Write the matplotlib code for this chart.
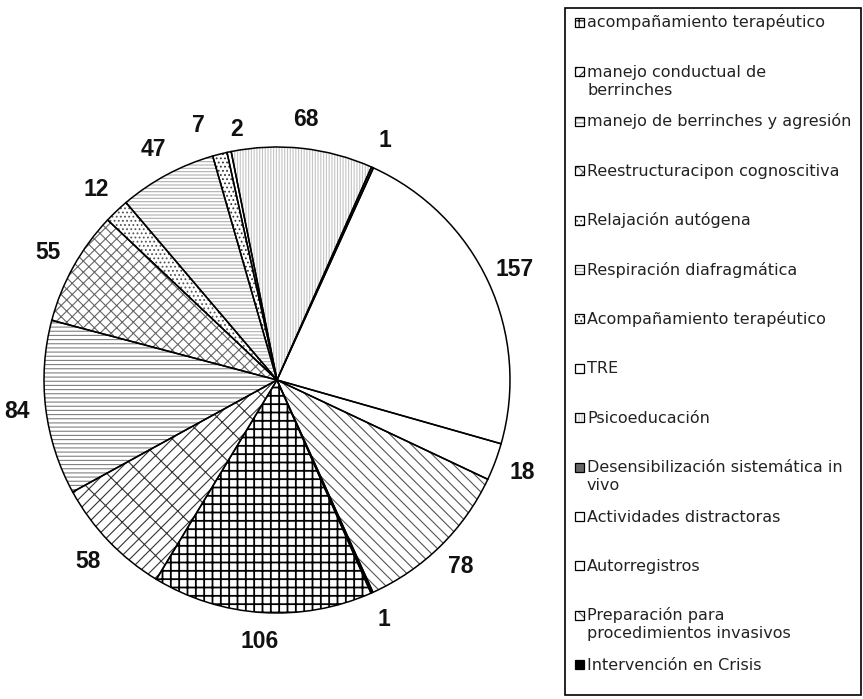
import matplotlib.pyplot as plt
from matplotlib.patches import Rectangle
import numpy as np

W, H = 863, 699

# slices, clockwise from the bottom (same order as the legend)
categories = ['acompañamiento terapéutico',
              'manejo conductual de\nberrinches',
              'manejo de berrinches y agresión',
              'Reestructuracipon cognoscitiva',
              'Relajación autógena',
              'Respiración diafragmática',
              'Acompañamiento terapéutico',
              'TRE',
              'Psicoeducación',
              'Desensibilización sistemática in\nvivo',
              'Actividades distractoras',
              'Autorregistros',
              'Preparación para\nprocedimientos invasivos',
              'Intervención en Crisis']
values = [106, 58, 84, 55, 12, 47, 7, 2, 68, 1, 157, 18, 78, 1]

# (face, hatch, hatch colour)
styles = [('white', '++', 'black'),
          ('white', '///\\', '#333333'),
          ('white', '----', '#808080'),
          ('white', 'xxx', '#666666'),
          ('white', '....', '#555555'),
          ('white', '-----', '#b0b0b0'),
          ('white', '....', '#333333'),
          ('white', '', 'white'),
          ('white', '||||||', '#c4c4c4'),
          ('#666666', '', '#666666'),
          ('white', '', 'white'),
          ('white', '', 'white'),
          ('white', '\\\\\\', '#555555'),
          ('black', '', 'black')]

plt.rcParams['hatch.linewidth'] = 0.8


def px(x, y):
    return x / W, 1 - y / H


fig = plt.figure(figsize=(W / 100, H / 100), dpi=100)

cx, cy, R = 277, 380, 233
l, b = px(cx - R, cy + R)
ax = fig.add_axes([l, b, 2 * R / W, 2 * R / H])

# hatch layer
wedges, _ = ax.pie(values, startangle=-66.2, counterclock=False,
                   wedgeprops=dict(linewidth=0))
for w, (fc, hatch, hc) in zip(wedges, styles):
    w.set_facecolor(fc)
    w.set_edgecolor(hc)
    w.set_hatch(hatch)
    if hatch == '++' and hasattr(w, 'set_hatch_linewidth'):
        w.set_hatch_linewidth(1.3)

# outlines
outl, _ = ax.pie(values, startangle=-66.2, counterclock=False,
                 wedgeprops=dict(facecolor='none', edgecolor='black', linewidth=1.1))

# the two small slices near the top get their labels pushed apart
nudge = {6: (2.9, 0.02), 7: (-2.6, -0.035)}
for i, (w, v) in enumerate(zip(outl, values)):
    da, dr = nudge.get(i, (0, 0))
    mid = np.deg2rad((w.theta1 + w.theta2) / 2 + da)
    r = 1.125 + dr
    ax.text(r * np.cos(mid), r * np.sin(mid), str(v),
            ha='center', va='center', fontsize=16.5, fontweight='bold',
            family='Liberation Sans', color='#111111')

ax.set_xlim(-1, 1)
ax.set_ylim(-1, 1)
ax.set_aspect('equal')
ax.axis('off')

# legend box
bx0, by0 = px(565, 695)
fig.add_artist(Rectangle((bx0, by0), (861 - 565) / W, (695 - 8) / H,
                         transform=fig.transFigure, facecolor='white',
                         edgecolor='black', linewidth=1.2))

for i, (lab, (fc, hatch, hc)) in enumerate(zip(categories, styles)):
    yc = 22.5 + i * 49.4
    x0, y0 = px(575, yc + 4.5)
    sw, sh = 9 / W, 9 / H
    fig.add_artist(Rectangle((x0, y0), sw, sh, transform=fig.transFigure,
                             facecolor=fc, edgecolor=hc, hatch=hatch, linewidth=0))
    fig.add_artist(Rectangle((x0, y0), sw, sh, transform=fig.transFigure,
                             facecolor='none', edgecolor='black', linewidth=0.9))
    for j, line in enumerate(lab.split('\n')):
        tx, ty = px(587, yc + 5 + j * 18)
        fig.text(tx, ty, line, ha='left', va='baseline', fontsize=11.5,
                 family='DejaVu Sans', color='#222222')

fig.savefig('out.png', dpi=100)
